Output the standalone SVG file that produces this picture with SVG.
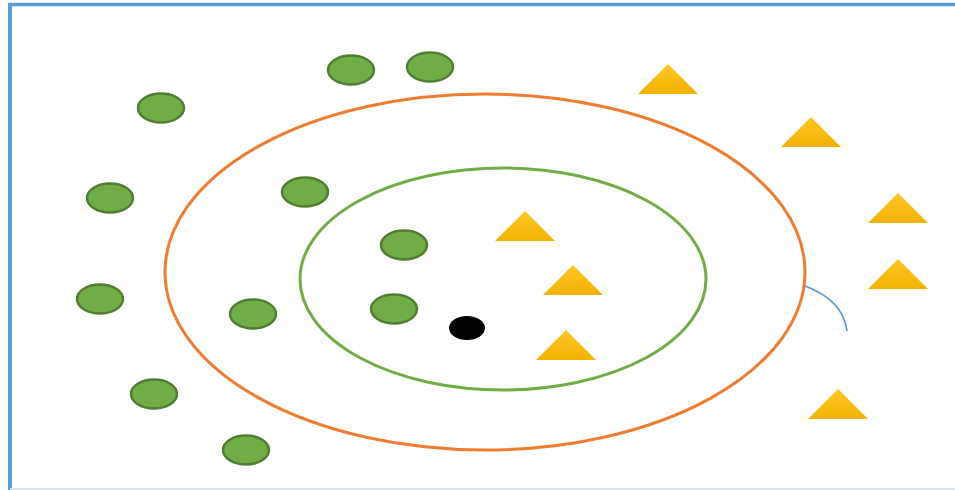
<svg xmlns="http://www.w3.org/2000/svg" width="955" height="490" viewBox="0 0 955 490">
  <style>
    .dot { fill: #70AD47; stroke: #507E32; stroke-width: 2.5; }
    .ring { fill: none; stroke-width: 3; }
  </style>
  <defs>
    <linearGradient id="triFill" x1="0" y1="0" x2="0" y2="1">
      <stop offset="0" stop-color="#FFC62A"/>
      <stop offset="1" stop-color="#F2B200"/>
    </linearGradient>
    <polygon id="tri" points="0,0 30,30 -30,30"/>
  </defs>
  <rect width="955" height="490" fill="#FFFFFF"/>
  <!-- frame -->
  <g id="frame" fill="none" stroke="#5B9BD5">
    <line x1="8" y1="4.5" x2="955" y2="4.5" stroke-width="3.5"/>
    <line x1="10" y1="3" x2="10" y2="490" stroke-width="4"/>
    <line x1="10" y1="489" x2="955" y2="489" stroke="#D6E4F2" stroke-width="2"/>
  </g>
  <!-- neighbourhood rings -->
  <g id="outer-ring"><ellipse class="ring" cx="485" cy="272" rx="320" ry="178" stroke="#ED7D31"/></g>
  <g id="inner-ring"><ellipse class="ring" cx="503" cy="279" rx="203" ry="111" stroke="#70AD47"/></g>
  <g id="connectors">
    <path d="M805,286 Q843,300 847,331" fill="none" stroke="#5B9BD5" stroke-width="1.8"/>
  </g>
  <!-- class A points -->
  <g id="circles">
    <g id="c1"><ellipse class="dot" cx="351" cy="70" rx="23" ry="14.5"/></g>
    <g id="c2"><ellipse class="dot" cx="430" cy="67" rx="23" ry="14.5"/></g>
    <g id="c3"><ellipse class="dot" cx="161" cy="108" rx="23" ry="14.5"/></g>
    <g id="c4"><ellipse class="dot" cx="110" cy="198" rx="23" ry="14.5"/></g>
    <g id="c5"><ellipse class="dot" cx="305" cy="192" rx="23" ry="14.5"/></g>
    <g id="c6"><ellipse class="dot" cx="404" cy="245" rx="23" ry="14.5"/></g>
    <g id="c7"><ellipse class="dot" cx="100" cy="299" rx="23" ry="14.5"/></g>
    <g id="c8"><ellipse class="dot" cx="253" cy="314" rx="23" ry="14.5"/></g>
    <g id="c9"><ellipse class="dot" cx="394" cy="309" rx="23" ry="14.5"/></g>
    <g id="c10"><ellipse class="dot" cx="154" cy="394" rx="23" ry="14.5"/></g>
    <g id="c11"><ellipse class="dot" cx="246" cy="450" rx="23" ry="14.5"/></g>
  </g>
  <!-- class B points -->
  <g id="triangles" fill="url(#triFill)">
    <g id="t1"><use href="#tri" x="668" y="64"/></g>
    <g id="t2"><use href="#tri" x="811" y="117"/></g>
    <g id="t3"><use href="#tri" x="898" y="193"/></g>
    <g id="t4"><use href="#tri" x="898" y="259"/></g>
    <g id="t5"><use href="#tri" x="838" y="389"/></g>
    <g id="t6"><use href="#tri" x="525" y="211"/></g>
    <g id="t7"><use href="#tri" x="573" y="265"/></g>
    <g id="t8"><use href="#tri" x="566" y="330"/></g>
  </g>
  <!-- query point -->
  <g id="query"><ellipse cx="467" cy="328" rx="18" ry="12" fill="#000000"/></g>
</svg>
